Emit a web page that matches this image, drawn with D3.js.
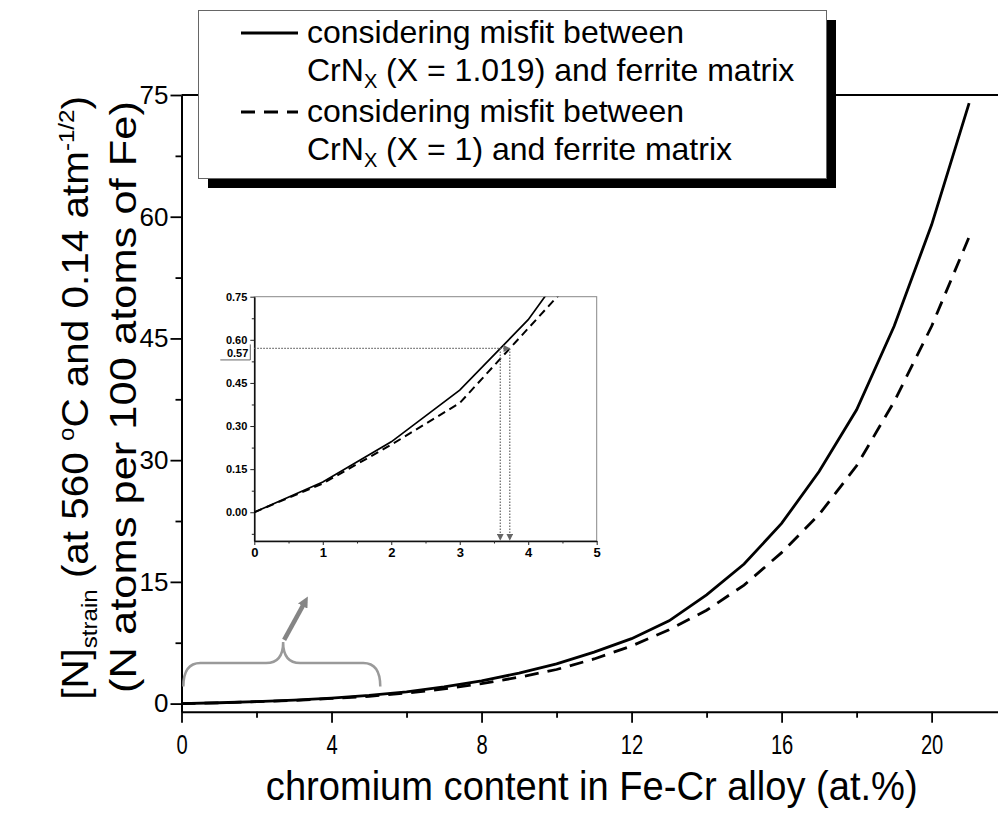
<!DOCTYPE html>
<html>
<head>
<meta charset="utf-8">
<script src="https://cdn.jsdelivr.net/npm/d3@7"></script>
<style>
  body { margin: 0; background: #fff; }
  svg { display: block; font-family: Arial, "Liberation Sans", sans-serif; }
</style>
</head>
<body>
<svg id="chart" width="998" height="816"></svg>
<script>
// chromium content in the Fe-Cr alloy (at.%)
const crContent = [0, 1, 2, 3, 4, 5, 6, 7, 8, 9, 10, 11, 12, 13, 14, 15, 16, 17, 18, 19, 20, 21];
// [N]strain, misfit CrNx with X = 1.019 (solid)
const nStrainX1019 = [0, 0.105, 0.245, 0.425, 0.67, 1.0, 1.45, 2.05, 2.8, 3.75, 4.9, 6.35, 8.0, 10.2, 13.4, 17.2, 22.2, 28.6, 36.2, 46.5, 59.0, 74.0];
// [N]strain, misfit CrNx with X = 1 (dashed)
const nStrainX1 = [0, 0.1, 0.235, 0.38, 0.64, 0.9, 1.3, 1.8, 2.45, 3.25, 4.2, 5.5, 7.1, 9.1, 11.5, 14.6, 18.6, 23.3, 29.3, 37.2, 46.5, 57.5];

const xTicks = [0, 4, 8, 12, 16, 20];
const xMinor = [2, 6, 10, 14, 18];
const yTicks = [0, 15, 30, 45, 60, 75];
const yMinor = [7.5, 22.5, 37.5, 52.5, 67.5];

const insetXTicks = [0, 1, 2, 3, 4, 5];
const insetXMinor = [0.5, 1.5, 2.5, 3.5, 4.5];
const insetYTicks = [0, 0.15, 0.30, 0.45, 0.60, 0.75];
const insetYMinor = [-0.075, 0.075, 0.225, 0.375, 0.525, 0.675];
const markLevel = 0.57;

const svg = d3.select('#chart');
svg.append('rect').attr('width', 998).attr('height', 816).attr('fill', '#fff');

const defs = svg.append('defs');
defs.append('marker').attr('id', 'bigHead')
  .attr('viewBox', '0 0 10 10').attr('refX', 5).attr('refY', 5)
  .attr('markerWidth', 2.4).attr('markerHeight', 2.4).attr('orient', 'auto')
  .append('path').attr('d', 'M0,0L10,5L0,10z').attr('fill', '#858585');
defs.append('marker').attr('id', 'smallHead')
  .attr('viewBox', '0 0 10 10').attr('refX', 9).attr('refY', 5)
  .attr('markerUnits', 'userSpaceOnUse')
  .attr('markerWidth', 7).attr('markerHeight', 7).attr('orient', 'auto')
  .append('path').attr('d', 'M0,0L10,5L0,10z').attr('fill', '#666');

// main scales
const x = d3.scaleLinear().domain([0, 21.77]).range([181.5, 998]);
const y = d3.scaleLinear().domain([-1, 75]).range([711.7, 95]);

const pts = vals => crContent.map((c, i) => [c, vals[i]]);

// ---- main axes ----
const gx = svg.append('g').attr('transform', `translate(0,${y(-1)})`)
  .call(d3.axisBottom(x).tickValues(xTicks).tickSize(11).tickSizeOuter(0).tickPadding(11));
svg.append('g').attr('transform', `translate(0,${y(-1)})`)
  .call(d3.axisBottom(x).tickValues(xMinor).tickSize(6).tickFormat('').tickSizeOuter(0))
  .select('.domain').remove();
gx.selectAll('text').attr('font-size', 28).attr('transform', 'scale(0.72,1)')
  .attr('font-family', 'Arial, "Liberation Sans", sans-serif');

const gy = svg.append('g').attr('transform', `translate(${x(0)},0)`)
  .call(d3.axisLeft(y).tickValues(yTicks).tickSize(11).tickSizeOuter(0).tickPadding(2));
svg.append('g').attr('transform', `translate(${x(0)},0)`)
  .call(d3.axisLeft(y).tickValues(yMinor).tickSize(6).tickFormat('').tickSizeOuter(0))
  .select('.domain').remove();
gy.selectAll('text').attr('font-size', 26).attr('font-family', 'Arial, "Liberation Sans", sans-serif');

svg.selectAll('.tick line').attr('stroke', '#000').attr('stroke-width', 1.8);
svg.selectAll('.domain').attr('stroke', '#000').attr('stroke-width', 2);

// top frame line
svg.append('line').attr('x1', x(0)).attr('x2', x(21.77)).attr('y1', y(75)).attr('y2', y(75))
  .attr('stroke', '#000').attr('stroke-width', 2);

// ---- main curves ----
const line = d3.line().x(d => x(d[0])).y(d => y(d[1]));
svg.append('path').datum(pts(nStrainX1019)).attr('d', line)
  .attr('fill', 'none').attr('stroke', '#000').attr('stroke-width', 2.8);
svg.append('path').datum(pts(nStrainX1)).attr('d', line)
  .attr('fill', 'none').attr('stroke', '#000').attr('stroke-width', 2.8)
  .attr('stroke-dasharray', '14,9');

// ---- brace + arrow pointing to the inset ----
const bl = x(0.05), br = x(5.3), bc = x(2.71);
const yb = y(2.1), ym = y(5.0), yc = y(7.6), r = 17;
svg.append('path')
  .attr('d', `M${bl},${yb}Q${bl},${ym} ${bl + r},${ym}L${bc - r},${ym}Q${bc},${ym} ${bc},${yc}` +
             `Q${bc},${ym} ${bc + r},${ym}L${br - r},${ym}Q${br},${ym} ${br},${yb}`)
  .attr('fill', 'none').attr('stroke', '#9a9a9a').attr('stroke-width', 2.5);
svg.append('line').attr('x1', bc + 1).attr('y1', yc - 2).attr('x2', x(3.3)).attr('y2', y(12.6))
  .attr('stroke', '#858585').attr('stroke-width', 4.5).attr('marker-end', 'url(#bigHead)');

// ---- inset ----
const ix = d3.scaleLinear().domain([0, 5]).range([254.3, 596.7]);
const iy = d3.scaleLinear().domain([-0.1, 0.75]).range([541, 296.7]);
const inset = svg.append('g').attr('font-family', 'Arial, "Liberation Sans", sans-serif');
inset.append('rect').attr('x', ix(0)).attr('y', iy(0.75))
  .attr('width', ix(5) - ix(0)).attr('height', iy(-0.1) - iy(0.75))
  .attr('fill', '#fff').attr('stroke', '#888').attr('stroke-width', 1);

defs.append('clipPath').attr('id', 'insetClip').append('rect')
  .attr('x', ix(0)).attr('y', iy(0.75)).attr('width', ix(5) - ix(0)).attr('height', iy(-0.1) - iy(0.75));

const iax = inset.append('g').attr('transform', `translate(0,${iy(-0.1)})`)
  .call(d3.axisBottom(ix).tickValues(insetXTicks).tickSize(4).tickSizeOuter(0).tickPadding(3)
    .tickFormat(d3.format('d')));
inset.append('g').attr('transform', `translate(0,${iy(-0.1)})`)
  .call(d3.axisBottom(ix).tickValues(insetXMinor).tickSize(2.5).tickFormat('').tickSizeOuter(0))
  .select('.domain').remove();
iax.selectAll('text').attr('font-size', 13).attr('font-weight', 'bold');

const iay = inset.append('g').attr('transform', `translate(${ix(0)},0)`)
  .call(d3.axisLeft(iy).tickValues(insetYTicks).tickSize(4).tickSizeOuter(0).tickPadding(3)
    .tickFormat(d3.format('.2f')));
inset.append('g').attr('transform', `translate(${ix(0)},0)`)
  .call(d3.axisLeft(iy).tickValues(insetYMinor).tickSize(2.5).tickFormat('').tickSizeOuter(0))
  .select('.domain').remove();
iay.selectAll('text').attr('font-size', 11).attr('font-weight', 'bold');
inset.selectAll('.tick line').attr('stroke', '#222').attr('stroke-width', 1);
inset.selectAll('.domain').attr('stroke', '#111').attr('stroke-width', 1.6);

const iline = d3.line().x(d => ix(d[0])).y(d => iy(d[1]));
const clipG = inset.append('g').attr('clip-path', 'url(#insetClip)');
clipG.append('path').datum(pts(nStrainX1019)).attr('d', iline)
  .attr('fill', 'none').attr('stroke', '#000').attr('stroke-width', 1.7);
clipG.append('path').datum(pts(nStrainX1)).attr('d', iline)
  .attr('fill', 'none').attr('stroke', '#000').attr('stroke-width', 2)
  .attr('stroke-dasharray', '8,5');

// where each curve reaches the marked level
function crossing(vals, level) {
  for (let i = 0; i < vals.length - 1; i++) {
    if (vals[i] <= level && vals[i + 1] > level)
      return crContent[i] + (level - vals[i]) / (vals[i + 1] - vals[i]) * (crContent[i + 1] - crContent[i]);
  }
  return null;
}
const cSolid = crossing(nStrainX1019, markLevel);
const cDash = crossing(nStrainX1, markLevel);

const dot = g => g.attr('stroke', '#666').attr('stroke-width', 1.2).attr('stroke-dasharray', '1.5,1.5').attr('fill', 'none');
inset.append('line').attr('x1', ix(0)).attr('x2', ix(cDash)).attr('y1', iy(markLevel)).attr('y2', iy(markLevel))
  .call(dot).attr('marker-end', 'url(#smallHead)');
[cSolid, cDash].forEach(c => {
  inset.append('line').attr('x1', ix(c)).attr('x2', ix(c)).attr('y1', iy(markLevel)).attr('y2', iy(-0.1) - 1)
    .call(dot).attr('marker-end', 'url(#smallHead)');
});

// boxed 0.57 label
inset.append('text').attr('x', ix(0) - 6).attr('y', iy(markLevel) + 8.5)
  .attr('text-anchor', 'end').attr('font-size', 11).attr('font-weight', 'bold').text('0.57');
inset.append('path')
  .attr('d', `M${ix(0) - 34},${iy(markLevel) + 11.5}H${ix(0) - 4}V${iy(markLevel) - 4}`)
  .attr('fill', 'none').attr('stroke', '#555').attr('stroke-width', 0.9);

// ---- axis titles ----
function fitWidth(sel, w) {
  const L = sel.node().getComputedTextLength();
  sel.attr('transform', `${sel.attr('transform') || ''} scale(${w / L},1)`);
}

const xt = svg.append('text').attr('text-anchor', 'middle')
  .attr('font-size', 40).text('chromium content in Fe-Cr alloy (at.%)')
  .attr('transform', `translate(${(x(0) + 998) / 2 + 2},800)`);
fitWidth(xt, 652);

const yl1 = svg.append('g').attr('transform', 'translate(88,398) rotate(-90)')
  .append('text').attr('text-anchor', 'middle').attr('font-size', 37);
yl1.append('tspan').text('[N]');
yl1.append('tspan').attr('font-size', 22).attr('dy', 9).text('strain');
yl1.append('tspan').attr('dy', -9).text(' (at 560 ');
yl1.append('tspan').attr('font-size', 22).attr('dy', -14).text('o');
yl1.append('tspan').attr('dy', 14).text('C and 0.14 atm');
yl1.append('tspan').attr('font-size', 22).attr('dy', -14).text('-1/2');
yl1.append('tspan').attr('dy', 14).text(')');
fitWidth(yl1, 604);

const yl2 = svg.append('g').attr('transform', 'translate(136,397) rotate(-90)')
  .append('text').attr('text-anchor', 'middle').attr('font-size', 37)
  .text('(N atoms per 100 atoms of Fe)');
fitWidth(yl2, 592);

// ---- legend ----
const leg = svg.append('g');
leg.append('rect').attr('x', 208).attr('y', 20).attr('width', 628).attr('height', 168).attr('fill', '#000');
leg.append('rect').attr('x', 198.5).attr('y', 10.5).attr('width', 628).attr('height', 168)
  .attr('fill', '#fff').attr('stroke', '#666').attr('stroke-width', 1);

const legendRows = [
  { dash: null, y: 33, base: 43, lines: [['considering misfit between'], ['CrN', 'X', ' (X = 1.019) and ferrite matrix']] },
  { dash: '14,9', y: 112, base: 122, lines: [['considering misfit between'], ['CrN', 'X', ' (X = 1) and ferrite matrix']] }
];
legendRows.forEach(row => {
  leg.append('line').attr('x1', 241).attr('x2', 298).attr('y1', row.y).attr('y2', row.y)
    .attr('stroke', '#000').attr('stroke-width', 2.8).attr('stroke-dasharray', row.dash);
  row.lines.forEach((parts, j) => {
    const t = leg.append('text').attr('x', 307).attr('y', row.base + j * 38).attr('font-size', 32);
    t.append('tspan').text(parts[0]);
    if (parts.length > 1) {
      t.append('tspan').attr('font-size', 20).attr('dy', 7).text(parts[1]);
      t.append('tspan').attr('dy', -7).text(parts[2]);
    }
  });
});
</script>
</body>
</html>
